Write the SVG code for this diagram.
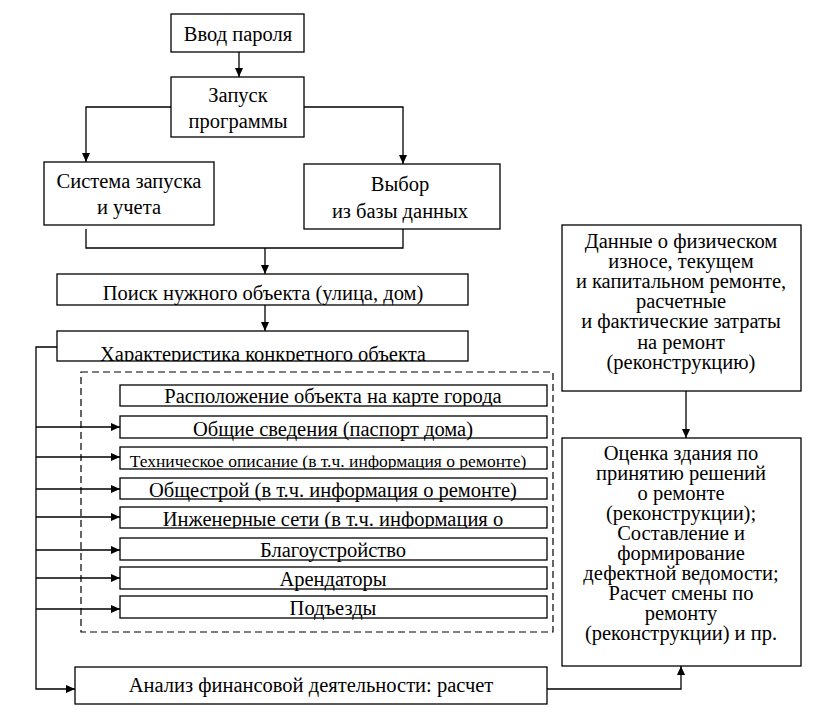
<svg xmlns="http://www.w3.org/2000/svg" width="834" height="721" viewBox="0 0 834 721">
<style>
.b{fill:#fff;stroke:#000;stroke-width:1.3}
.t{font-size:20.5px;fill:#000;text-anchor:middle}
.c{fill:none;stroke:#000;stroke-width:1.3}
</style>
<defs>
<marker id="a" markerWidth="9" markerHeight="8" refX="9" refY="4" orient="auto" markerUnits="userSpaceOnUse"><path d="M0,0 L9,4 L0,8 z" fill="#000"/></marker>
<clipPath id="k1"><rect x="57" y="274" width="411" height="31"/></clipPath>
<clipPath id="k2"><rect x="57" y="331" width="411" height="30"/></clipPath>
<clipPath id="k3"><rect x="120" y="385" width="427" height="21"/></clipPath>
<clipPath id="k4"><rect x="120" y="447" width="427" height="22"/></clipPath>
<clipPath id="k5"><rect x="120" y="507" width="427" height="21"/></clipPath>
</defs>
<rect x="0" y="0" width="834" height="721" fill="#fff"/>
<g id="connectors">
<path class="c" d="M239,52 V77" marker-end="url(#a)"/>
<path class="c" d="M171,107 H86 V162" marker-end="url(#a)"/>
<path class="c" d="M304,107 H403 V164" marker-end="url(#a)"/>
<path class="c" d="M86,229 V248 H403 V229"/>
<path class="c" d="M265,248 V274" marker-end="url(#a)"/>
<path class="c" d="M265,305 V331" marker-end="url(#a)"/>
<path class="c" d="M57,347 H36 V689 H75" marker-end="url(#a)"/>
<path class="c" d="M36,427 H120" marker-end="url(#a)"/>
<path class="c" d="M36,457 H120" marker-end="url(#a)"/>
<path class="c" d="M36,489 H120" marker-end="url(#a)"/>
<path class="c" d="M36,517 H120" marker-end="url(#a)"/>
<path class="c" d="M36,550 H120" marker-end="url(#a)"/>
<path class="c" d="M36,578 H120" marker-end="url(#a)"/>
<path class="c" d="M36,609 H120" marker-end="url(#a)"/>
<path class="c" d="M686,391 V438" marker-end="url(#a)"/>
<path class="c" d="M547,689 H681 V666" marker-end="url(#a)"/>
</g>
<g id="group-dashed"><rect x="81" y="372" width="472" height="260" fill="none" stroke="#000" stroke-width="1.2" stroke-dasharray="7,4"/></g>
<g font-family="'Liberation Serif', 'Times New Roman', Tinos, 'DejaVu Serif', serif">
<g id="n1"><rect class="b" x="171" y="14" width="133" height="38"/><text class="t" x="238" y="41">Ввод пароля</text></g>
<g id="n2"><rect class="b" x="171" y="77" width="133" height="60"/><text class="t" x="238" y="102">Запуск</text><text class="t" x="238" y="128">программы</text></g>
<g id="n3"><rect class="b" x="44" y="162" width="170" height="63"/><text class="t" x="129" y="188">Система запуска</text><text class="t" x="129" y="214">и учета</text></g>
<g id="n4"><rect class="b" x="304" y="164" width="196" height="65"/><text class="t" x="400" y="191">Выбор</text><text class="t" x="400" y="218">из базы данных</text></g>
<g id="n5"><rect class="b" x="57" y="274" width="411" height="31"/><text class="t" x="263" y="300" clip-path="url(#k1)">Поиск нужного объекта (улица, дом)</text></g>
<g id="n6"><rect class="b" x="57" y="331" width="411" height="30"/><text class="t" x="263" y="361" clip-path="url(#k2)">Характеристика конкретного объекта</text></g>
<g id="n7"><rect class="b" x="120" y="385" width="427" height="21"/><text class="t" x="333" y="403" clip-path="url(#k3)">Расположение объекта на карте города</text></g>
<g id="n8"><rect class="b" x="120" y="416" width="427" height="22"/><text class="t" x="333" y="436">Общие сведения (паспорт дома)</text></g>
<g id="n9"><rect class="b" x="120" y="447" width="427" height="22"/><text class="t" x="328" y="467" style="font-size:17.5px" clip-path="url(#k4)">Техническое описание (в т.ч. информация о ремонте)</text></g>
<g id="n10"><rect class="b" x="120" y="478" width="427" height="21"/><text class="t" x="333" y="497">Общестрой (в т.ч. информация о ремонте)</text></g>
<g id="n11"><rect class="b" x="120" y="507" width="427" height="21"/><text class="t" x="333" y="526" clip-path="url(#k5)">Инженерные сети (в т.ч. информация о</text></g>
<g id="n12"><rect class="b" x="120" y="538" width="427" height="22"/><text class="t" x="333" y="557">Благоустройство</text></g>
<g id="n13"><rect class="b" x="120" y="567" width="427" height="22"/><text class="t" x="333" y="586">Арендаторы</text></g>
<g id="n14"><rect class="b" x="120" y="596" width="427" height="22"/><text class="t" x="333" y="615">Подъезды</text></g>
<g id="n15"><rect class="b" x="75" y="667" width="472" height="37"/><text class="t" x="311" y="692">Анализ финансовой деятельности: расчет</text></g>
<g id="n16"><rect class="b" x="562" y="225" width="239" height="166"/>
<text class="t" x="681" y="248">Данные о физическом</text>
<text class="t" x="681" y="268">износе, текущем</text>
<text class="t" x="681" y="288">и капитальном ремонте,</text>
<text class="t" x="681" y="308">расчетные</text>
<text class="t" x="681" y="328">и фактические затраты</text>
<text class="t" x="681" y="349">на ремонт</text>
<text class="t" x="681" y="369">(реконструкцию)</text></g>
<g id="n17"><rect class="b" x="562" y="438" width="239" height="228"/>
<text class="t" x="681" y="460">Оценка здания по</text>
<text class="t" x="681" y="480">принятию решений</text>
<text class="t" x="681" y="500">о ремонте</text>
<text class="t" x="681" y="520">(реконструкции);</text>
<text class="t" x="681" y="540">Составление и</text>
<text class="t" x="681" y="560">формирование</text>
<text class="t" x="681" y="580">дефектной ведомости;</text>
<text class="t" x="681" y="600">Расчет смены по</text>
<text class="t" x="681" y="620">ремонту</text>
<text class="t" x="681" y="640">(реконструкции) и пр.</text></g>
</g>
</svg>
